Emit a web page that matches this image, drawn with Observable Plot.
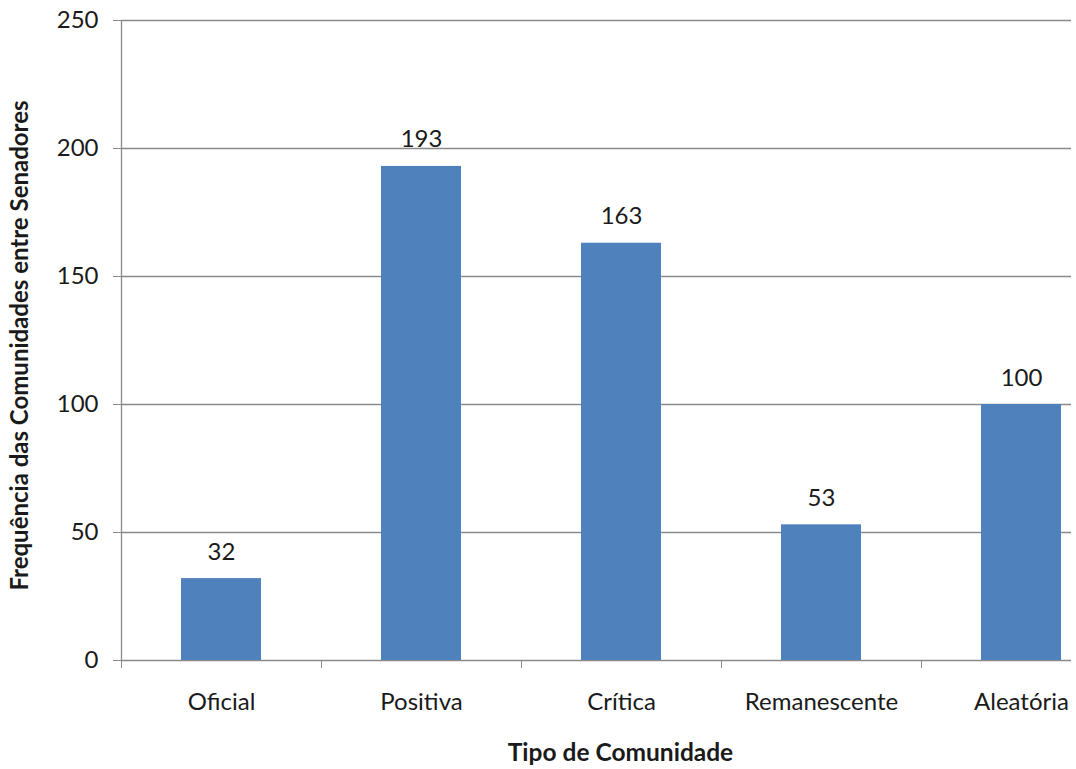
<!DOCTYPE html>
<html><head><meta charset="utf-8">
<script src="https://cdn.jsdelivr.net/npm/d3@7"></script>
<script src="https://cdn.jsdelivr.net/npm/@observablehq/plot@0.6"></script>
<style>body{margin:0;background:#fff;}</style>
</head><body><div id="chart"></div>
<script>
const categories = ["Oficial", "Positiva", "Crítica", "Remanescente", "Aleatória"];
const values = [32, 193, 163, 53, 100];
const yTicks = [0, 50, 100, 150, 200, 250];
const xTitle = "Tipo de Comunidade";
const yTitle = "Frequência das Comunidades entre Senadores";

const data = categories.map((c, i) => ({cat: c, value: values[i]}));
const gray = "#8a8a8a";
const step = 200;

const chart = Plot.plot({
  width: 1076, height: 769,
  marginLeft: 121, marginRight: 5, marginTop: 20, marginBottom: 109,
  style: {fontFamily: "Lato, 'Open Sans', sans-serif", fontSize: "24px", color: "#1a1a1a", background: "white"},
  x: {domain: categories, range: [121, 1121], paddingInner: 0.6, paddingOuter: 0.3},
  y: {domain: [0, 250]},
  marks: [
    Plot.gridY(yTicks, {stroke: gray, strokeOpacity: 1, strokeWidth: 1.3}),
    Plot.barY(data, {x: "cat", y: "value", fill: "#4F81BD"}),
    Plot.ruleX([categories[0]], {x: d => d, dx: -step / 2, y1: 0, y2: 250, stroke: gray, strokeWidth: 1.3}),
    Plot.axisY(yTicks, {tickSize: 8, tickPadding: 15, label: null, stroke: gray, fontSize: 24}),
    Plot.axisX({tickSize: 0, tickPadding: 32, label: null, fontSize: 24}),
    Plot.axisX({tickSize: 8, dx: -step / 2, tickFormat: () => "", label: null, stroke: gray}),
    Plot.text(data, {x: "cat", y: "value", text: d => String(d.value), dy: -19, lineAnchor: "bottom", fontSize: 24}),
    Plot.text([yTitle], {frameAnchor: "left", textAnchor: "middle", rotate: -90, dx: -101, dy: 5, fontWeight: "bold", fontSize: 24}),
    Plot.text([xTitle], {frameAnchor: "bottom", textAnchor: "middle", dx: 24, dy: 100, fontWeight: "bold", fontSize: 24.5})
  ]
});
document.getElementById("chart").appendChild(chart);
</script>
</body></html>
